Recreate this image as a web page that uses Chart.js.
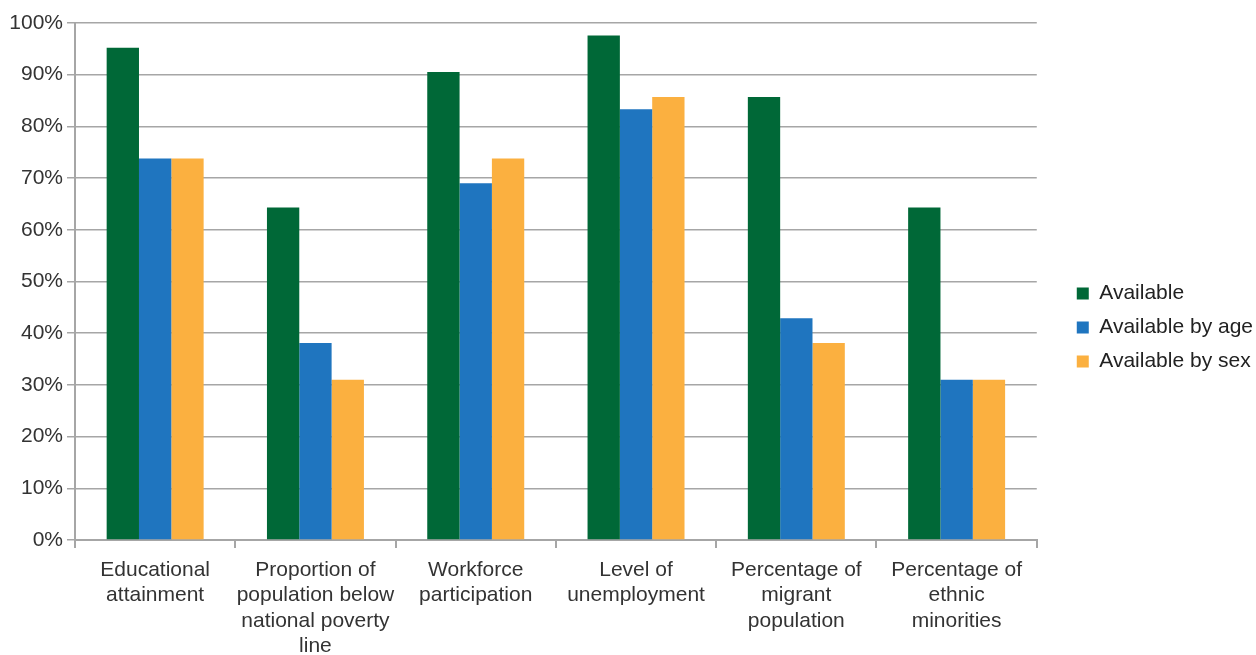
<!DOCTYPE html>
<html>
<head>
<meta charset="utf-8">
<script src="https://cdn.jsdelivr.net/npm/chart.js@4"></script>
<style>
  html, body { margin: 0; padding: 0; background: #fff; }
  #contenedor { width: 1256px; height: 655px; }
</style>
</head>
<body>
<div id="contenedor"><canvas id="grafico"></canvas></div>
<script>
// Categorías (cada una en varias líneas)
const categorias = [
  ['Educational', 'attainment'],
  ['Proportion of', 'population below', 'national poverty', 'line'],
  ['Workforce', 'participation'],
  ['Level of', 'unemployment'],
  ['Percentage of', 'migrant', 'population'],
  ['Percentage of', 'ethnic', 'minorities']
];

// Series (%)
const disponible = [95.2, 64.3, 90.5, 97.6, 85.7, 64.3];
const disponiblePorEdad = [73.8, 38.1, 69.0, 83.3, 42.9, 31.0];
const disponiblePorSexo = [73.8, 31.0, 73.8, 85.7, 38.1, 31.0];

const gris = '#a6a6a6';
const fuente = 'Liberation Sans, Arial, Helvetica, sans-serif';

const data = {
  labels: categorias,
  datasets: [
    { label: 'Available', data: disponible, backgroundColor: '#006837' },
    { label: 'Available by age', data: disponiblePorEdad, backgroundColor: '#1f75bf' },
    { label: 'Available by sex', data: disponiblePorSexo, backgroundColor: '#fbb040' }
  ]
};

// Ejes vacíos que solo reservan espacio alrededor del área del gráfico
const ejeVacio = (pos, tam) => ({
  type: pos === 'top' ? 'category' : 'linear',
  position: pos,
  display: true,
  grid: { display: false },
  border: { display: false },
  ticks: { display: false },
  afterFit: s => {
    if (pos === 'top') s.height = tam; else s.width = tam;
  }
});

const config = {
  type: 'bar',
  data: data,
  options: {
    responsive: false,
    animation: false,
    devicePixelRatio: 1,
    datasets: {
      bar: { categoryPercentage: 0.605, barPercentage: 1.0 }
    },
    layout: { padding: { top: 0, left: 0, right: -7, bottom: 0 } },
    plugins: {
      legend: {
        position: 'right',
        align: 'center',
        labels: {
          boxWidth: 12,
          boxHeight: 12,
          padding: 13,
          color: '#222',
          font: { family: fuente, size: 21 }
        }
      },
      tooltip: { enabled: false }
    },
    scales: {
      x: {
        grid: {
          offset: true,
          drawOnChartArea: false,
          color: gris,
          lineWidth: 2,
          tickLength: 8
        },
        border: { color: gris, width: 2 },
        ticks: {
          autoSkip: false,
          color: '#333',
          padding: 9,
          maxRotation: 0,
          font: { family: fuente, size: 21, lineHeight: 1.22 }
        },
        afterFit: s => { s.height = 115; }
      },
      arriba: ejeVacio('top', 23),
      y: {
        min: 0,
        max: 100,
        grid: {
          color: gris,
          lineWidth: 1.5,
          tickLength: 8
        },
        border: { color: gris, width: 2 },
        ticks: {
          stepSize: 10,
          color: '#333',
          padding: 4,
          font: { family: fuente, size: 21 },
          callback: v => v + '%'
        },
        afterFit: s => { s.width = 75; }
      },
      derecha: ejeVacio('right', 27)
    }
  }
};

const lienzo = document.querySelector('#grafico');
lienzo.width = 1256;
lienzo.height = 655;
new Chart(lienzo.getContext('2d'), config);
</script>
</body>
</html>
